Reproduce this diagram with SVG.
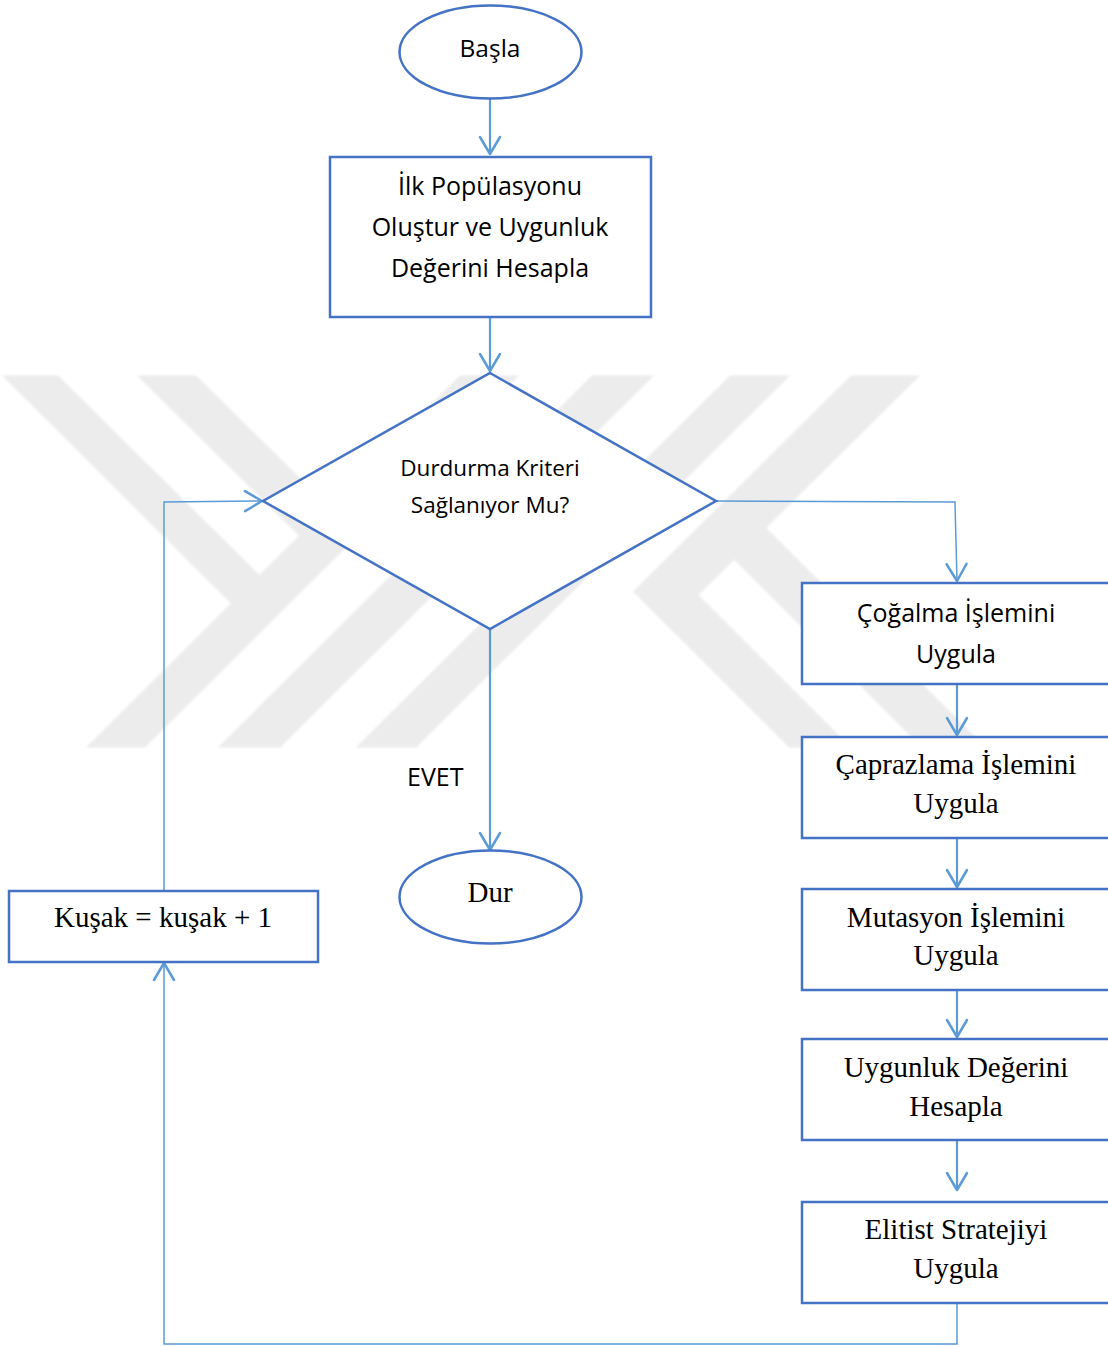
<svg xmlns="http://www.w3.org/2000/svg" width="1108" height="1346" viewBox="0 0 1108 1346">
<style>
.node{fill:#ffffff;stroke:#4472c4;stroke-width:2.5}
.conn{fill:none;stroke:#5b9bd5;stroke-width:2.2}
.thin{fill:none;stroke:#5b9bd5;stroke-width:1.5}
.sans{font-family:"Open Sans","Noto Sans",sans-serif;fill:#000;text-anchor:middle}
.serif{font-family:"Liberation Serif","Times New Roman",serif;font-size:29px;fill:#000;text-anchor:middle}
.wm{fill:#ececec;stroke:#ececec;stroke-width:5;stroke-linejoin:miter}
</style>
<defs>
<marker id="arr" markerUnits="userSpaceOnUse" markerWidth="30" markerHeight="30" viewBox="-22 -15 30 30" refX="0" refY="0" orient="auto" overflow="visible">
<path d="M-17,-10 L0,0 L-17,10" fill="none" stroke="#5b9bd5" stroke-width="2.5" stroke-linejoin="round" stroke-linecap="round"/>
</marker>
<filter id="soft" x="-5%" y="-5%" width="110%" height="110%">
<feGaussianBlur stdDeviation="1.3"/>
</filter>
</defs>
<rect width="1108" height="1346" fill="#ffffff"/>
<g id="watermark" filter="url(#soft)">
<polygon class="wm" points="8,378 57,378 270,589 245,614"/>
<polygon class="wm" points="143,378 195,378 339,520 313,546"/>
<polygon class="wm" points="461,378 513,378 144,745 92,745"/>
<polygon class="wm" points="593,378 648,378 279,745 224,745"/>
<polygon class="wm" points="731,378 784,378 415,745 362,745"/>
<polygon class="wm" points="852,378 914,378 695,595 845,745 790,745 636.5,591.5"/>
<polygon class="wm" points="752,517 980,745 923,745 724,546"/>
</g>
<g id="connectors">
<line class="conn" x1="490" y1="99" x2="490" y2="154" marker-end="url(#arr)"/>
<line class="conn" x1="490" y1="318" x2="490" y2="371" marker-end="url(#arr)"/>
<line class="conn" x1="490" y1="630" x2="490" y2="850" marker-end="url(#arr)"/>
<polyline class="thin" points="716,501 955,502 957,581" marker-end="url(#arr)"/>
<line class="conn" x1="957" y1="684" x2="957" y2="735" marker-end="url(#arr)"/>
<line class="conn" x1="957" y1="838" x2="957" y2="887" marker-end="url(#arr)"/>
<line class="conn" x1="957" y1="990" x2="957" y2="1037" marker-end="url(#arr)"/>
<line class="conn" x1="957" y1="1140" x2="957" y2="1190" marker-end="url(#arr)"/>
<polyline class="thin" points="957,1303 957,1344 164,1344 164,963" marker-end="url(#arr)"/>
<polyline class="thin" points="164,891 164,502 262,501" marker-end="url(#arr)"/>
</g>
<g id="n-basla">
<ellipse class="node" cx="490.5" cy="52" rx="91" ry="46.5"/>
<text class="sans" x="490" y="57" font-size="24.5">Başla</text>
</g>
<g id="n-ilk">
<rect class="node" x="330" y="157" width="321" height="160"/>
<text class="sans" x="490" y="195" font-size="25">İlk Popülasyonu</text>
<text class="sans" x="490" y="236" font-size="25">Oluştur ve Uygunluk</text>
<text class="sans" x="490" y="277" font-size="25">Değerini Hesapla</text>
</g>
<g id="n-karar">
<polygon class="node" points="490,373 716,501 490,629 263,501"/>
<text class="sans" x="490" y="476" font-size="22.5">Durdurma Kriteri</text>
<text class="sans" x="490" y="513" font-size="22.5">Sağlanıyor Mu?</text>
</g>
<g id="l-evet">
<text class="sans" x="407" y="786" font-size="25" style="text-anchor:start">EVET</text>
</g>
<g id="n-dur">
<ellipse class="node" cx="490.5" cy="897" rx="91" ry="46.5"/>
<text class="serif" x="490" y="902">Dur</text>
</g>
<g id="n-kusak">
<rect class="node" x="9" y="891" width="309" height="71"/>
<text class="serif" x="163" y="927">Kuşak = kuşak + 1</text>
</g>
<g id="n-cogalma">
<rect class="node" x="802" y="583" width="320" height="101"/>
<text class="sans" x="956" y="622" font-size="25">Çoğalma İşlemini</text>
<text class="sans" x="956" y="663" font-size="25">Uygula</text>
</g>
<g id="n-caprazlama">
<rect class="node" x="802" y="737" width="320" height="101"/>
<text class="serif" x="956" y="774">Çaprazlama İşlemini</text>
<text class="serif" x="956" y="813">Uygula</text>
</g>
<g id="n-mutasyon">
<rect class="node" x="802" y="889" width="320" height="101"/>
<text class="serif" x="956" y="927">Mutasyon İşlemini</text>
<text class="serif" x="956" y="965">Uygula</text>
</g>
<g id="n-uygunluk">
<rect class="node" x="802" y="1039" width="320" height="101"/>
<text class="serif" x="956" y="1077">Uygunluk Değerini</text>
<text class="serif" x="956" y="1116">Hesapla</text>
</g>
<g id="n-elitist">
<rect class="node" x="802" y="1202" width="320" height="101"/>
<text class="serif" x="956" y="1239">Elitist Stratejiyi</text>
<text class="serif" x="956" y="1278">Uygula</text>
</g>
</svg>
